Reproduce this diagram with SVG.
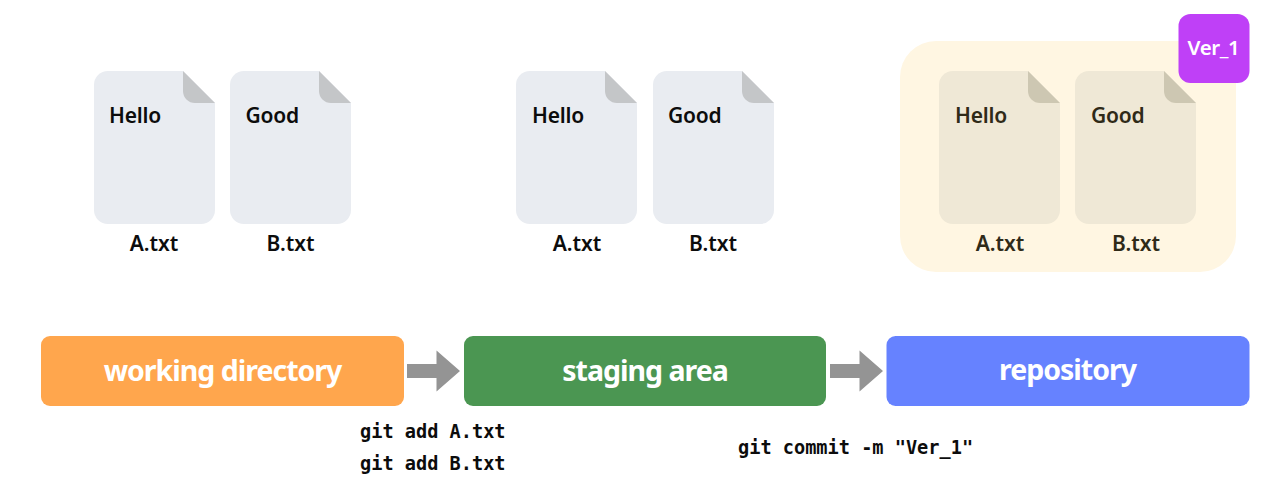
<svg xmlns="http://www.w3.org/2000/svg" width="1288" height="502" viewBox="0 0 1288 502">
<style>
text{font-family:"Noto Sans","Open Sans",sans-serif}
.page{fill:#e9ecf1}
.fold{fill:#c4c6c8}
.page2{fill:#efe8d6}
.fold2{fill:#cdc7b2}
.t{font-size:21px;font-weight:600;fill:#0c0c0c;letter-spacing:-.2px}
.n{font-size:21px;font-weight:600;fill:#0c0c0c;text-anchor:middle}
.y .t,.y .n{fill:#2f2a18}
.lab{font-size:28.500px;font-weight:700;fill:#fff;text-anchor:middle;letter-spacing:-1px}
.cmd{font-family:"DejaVu Sans Mono","Liberation Mono",monospace;font-size:18.6px;font-weight:700;fill:#0c0c0c}
.ar{fill:#949494}
</style>
<defs>
<g id="doc">
<path class="page" d="M14 0H89L121 32V139a14 14 0 0 1-14 14H14a14 14 0 0 1-14-14V14A14 14 0 0 1 14 0Z"/>
<path class="fold" d="M89 0L121 32H101a12 12 0 0 1-12-12Z"/>
</g>
<g id="doc2">
<path class="page2" d="M14 0H89L121 32V139a14 14 0 0 1-14 14H14a14 14 0 0 1-14-14V14A14 14 0 0 1 14 0Z"/>
<path class="fold2" d="M89 0L121 32H101a12 12 0 0 1-12-12Z"/>
</g>
</defs>
<rect id="repo-bg" x="900" y="41" width="336" height="231" rx="36" fill="#fff6e2"/>
<g id="wd-a"><use href="#doc" x="94" y="71"/><text class="t" x="109" y="123">Hello</text><text class="n" x="154" y="251">A.txt</text></g>
<g id="wd-b"><use href="#doc" x="230" y="71"/><text class="t" x="245.500" y="123">Good</text><text class="n" x="290.500" y="251">B.txt</text></g>
<g id="st-a"><use href="#doc" x="516" y="71"/><text class="t" x="532" y="123">Hello</text><text class="n" x="577" y="251">A.txt</text></g>
<g id="st-b"><use href="#doc" x="653" y="71"/><text class="t" x="668" y="123">Good</text><text class="n" x="713" y="251">B.txt</text></g>
<g id="re-a" class="y"><use href="#doc2" x="939" y="71"/><text class="t" x="955" y="123">Hello</text><text class="n" x="1000" y="251">A.txt</text></g>
<g id="re-b" class="y"><use href="#doc2" x="1075" y="71"/><text class="t" x="1091" y="123">Good</text><text class="n" x="1136" y="251">B.txt</text></g>
<g id="ver"><rect x="1178.500" y="14" width="71" height="69" rx="12" fill="#bf40f7"/><text x="1213.500" y="55" font-size="20.500px" font-weight="600" letter-spacing="-.4" fill="#fff" text-anchor="middle">Ver_1</text></g>
<g id="working"><rect x="41" y="336" width="363" height="70" rx="9" fill="#ffa64d"/><text class="lab" x="222.500" y="381">working directory</text></g>
<g id="staging"><rect x="464" y="336" width="362" height="70" rx="9" fill="#4b9652"/><text class="lab" x="645" y="381">staging area</text></g>
<g id="repository"><rect x="886.500" y="336" width="363" height="70" rx="9" fill="#6682ff"/><text class="lab" x="1067.500" y="380">repository</text></g>
<g id="connectors">
<path class="ar" d="M407 364H436.500V350.500L460 371L436.500 391.500V378H407Z"/>
<path class="ar" d="M830 364H859.500V350.500L883 371L859.500 391.500V378H830Z"/>
</g>
<g id="commands">
<text class="cmd" x="360" y="438">git add A.txt</text>
<text class="cmd" x="360" y="470">git add B.txt</text>
<text class="cmd" x="738" y="454">git commit -m "Ver_1"</text>
</g>
</svg>
